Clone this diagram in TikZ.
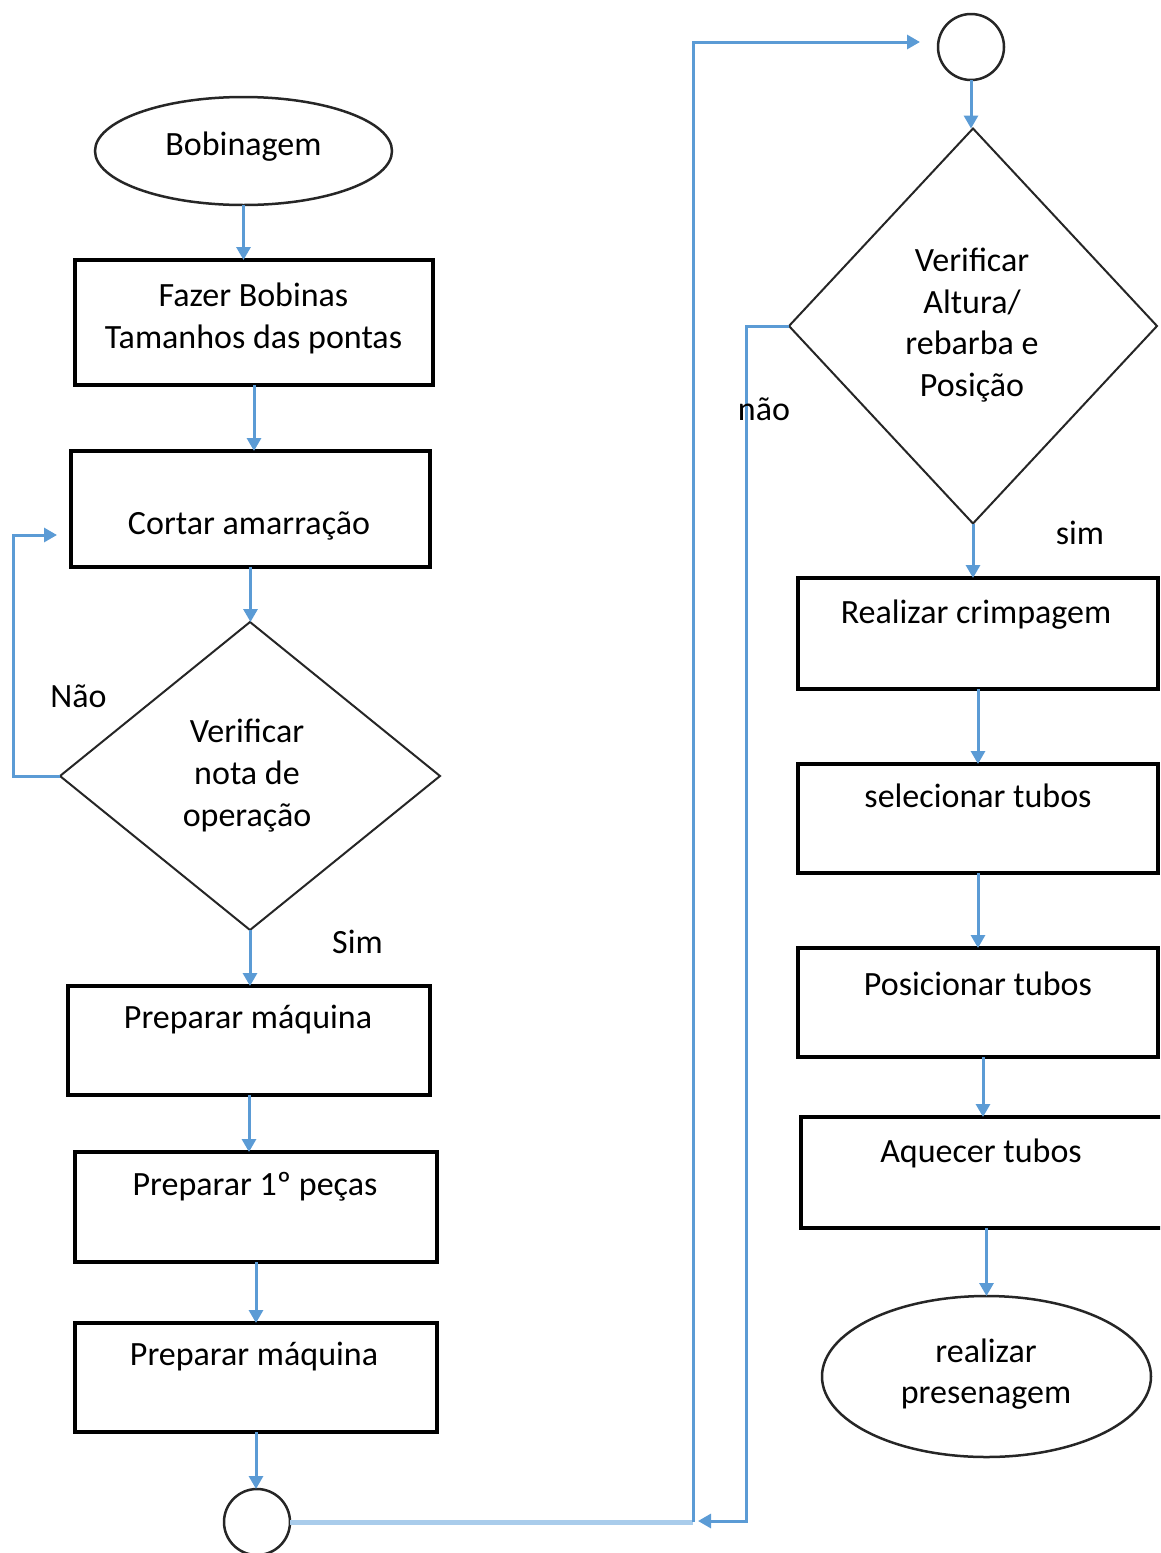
\documentclass[tikz,border=0pt]{standalone}
\usepackage{fontspec}
\setmainfont{Carlito}
\usetikzlibrary{arrows.meta,shapes.geometric}
\definecolor{flowblue}{HTML}{5B9BD5}
\definecolor{flowpale}{HTML}{A9CCEB}
\begin{document}
\begin{tikzpicture}[x=1pt,y=-1pt,
  every node/.style={inner sep=0pt,outer sep=0pt},
  txt/.style={font=\fontsize{34}{42}\selectfont,align=center},
  stepbox/.style={draw=black,line width=4pt,rectangle},
  decision/.style={draw=black!85,line width=2pt,diamond},
  terminal/.style={draw=black!85,line width=2.5pt,ellipse},
  joint/.style={draw=black!85,line width=2.5pt,circle,minimum size=66pt},
  flow/.style={draw=flowblue,line width=3pt,-{Triangle[length=13pt,width=14pt]}},
  paleline/.style={draw=flowpale,line width=5pt},
]
\clip (0,0) rectangle (1160,1553);

% ---- left column ----
\node[terminal,minimum width=297pt,minimum height=108pt] (start) at (243.5,151) {};
\node[txt,anchor=base] (startT) at (243.5,155) {Bobinagem};

\node[stepbox,minimum width=358pt,minimum height=125pt] (b1) at (254,322.5) {};
\node[txt] (b1T) at (253.5,318.5) {Fazer Bobinas\\Tamanhos das pontas};

\node[stepbox,minimum width=359pt,minimum height=116pt] (b2) at (250.5,509) {};
\node[txt,anchor=base] (b2T) at (249,534) {Cortar amarração};

\node[decision,minimum width=380pt,minimum height=308pt] (d1) at (250,776) {};
\node[txt] (d1T) at (247,775.5) {Verificar\\nota de\\operação};

\node[stepbox,minimum width=362pt,minimum height=109pt] (b3) at (249,1040.5) {};
\node[txt,anchor=base] (b3T) at (248,1028) {Preparar máquina};

\node[stepbox,minimum width=362pt,minimum height=110pt] (b4) at (256,1207) {};
\node[txt,anchor=base] (b4T) at (255,1195) {Preparar 1º peças};

\node[stepbox,minimum width=362pt,minimum height=109pt] (b5) at (256,1377.5) {};
\node[txt,anchor=base] (b5T) at (254,1365) {Preparar máquina};

\node[joint] (circA) at (257,1522) {};

% ---- right column ----
\node[joint] (circB) at (971,47) {};

\node[decision,minimum width=368pt,minimum height=395pt] (d2) at (973,326) {};
\node[txt,font=\fontsize{34}{41.5}\selectfont] (d2T) at (972,325) {Verificar\\Altura/\\rebarba e\\Posição};

\node[stepbox,minimum width=360pt,minimum height=111pt] (r1) at (978,633.5) {};
\node[txt,anchor=base] (r1T) at (976,623) {Realizar crimpagem};

\node[stepbox,minimum width=360pt,minimum height=109pt] (r2) at (978,818.5) {};
\node[txt,anchor=base] (r2T) at (978,807) {selecionar tubos};

\node[stepbox,minimum width=360pt,minimum height=109pt] (r3) at (978,1002.5) {};
\node[txt,anchor=base] (r3T) at (978,995) {Posicionar tubos};

\node[stepbox,minimum width=363pt,minimum height=111pt] (r4) at (982.5,1172.5) {};
\node[txt,anchor=base] (r4T) at (981,1162) {Aquecer tubos};

\node[terminal,minimum width=329pt,minimum height=161pt] (finish) at (986.5,1376.5) {};
\node[txt,font=\fontsize{34}{41}\selectfont] (finishT) at (986,1374.5) {realizar\\presenagem};

% ---- connectors, left column ----
\draw[flow] (start.south) -- (start.south |- b1.north);
\draw[flow] (b1.south) -- (b1.south |- b2.north);
\draw[flow] (b2.south) -- (b2.south |- d1.north);
\coordinate (loopL) at (57,535);
\draw[flow] (d1.west) -- ++(-47,0) |- (loopL);
\draw[flow] (d1.south) -- (d1.south |- b3.north);
\draw[flow] (b3.south) -- (b3.south |- b4.north);
\draw[flow] (b4.south) -- (b4.south |- b5.north);
\draw[flow] (b5.south) -- (b5.south |- circA.north);

% ---- link between the two columns ----
\coordinate (jA) at (693,1522);
\coordinate (tipA) at (920,42);
\draw[paleline] (circA.east) -- (jA);
\draw[flow] (jA) |- (tipA);

% ---- connectors, right column ----
\draw[flow] (circB.south) -- (circB.south |- d2.north);
\coordinate (tipB) at (698,1521);
\draw[flow] (d2.west) -- ++(-43,0) |- (tipB);
\draw[flow] (d2.south) -- (d2.south |- r1.north);
\draw[flow] (r1.south) -- (r1.south |- r2.north);
\draw[flow] (r2.south) -- (r2.south |- r3.north);
\draw[flow] ([xshift=5pt]r3.south) -- ([xshift=5pt]r3.south |- r4.north);
\draw[flow] ([xshift=4pt]r4.south) -- ([xshift=4pt]r4.south |- finish.north);

% ---- branch labels ----
\node[txt,anchor=base] (noL) at (78.5,707) {Não};
\node[txt,anchor=base] (simL) at (357.5,953) {Sim};
\node[txt,anchor=base] (noR) at (764,420) {não};
\node[txt,anchor=base] (simR) at (1080,544) {sim};
\end{tikzpicture}
\end{document}
